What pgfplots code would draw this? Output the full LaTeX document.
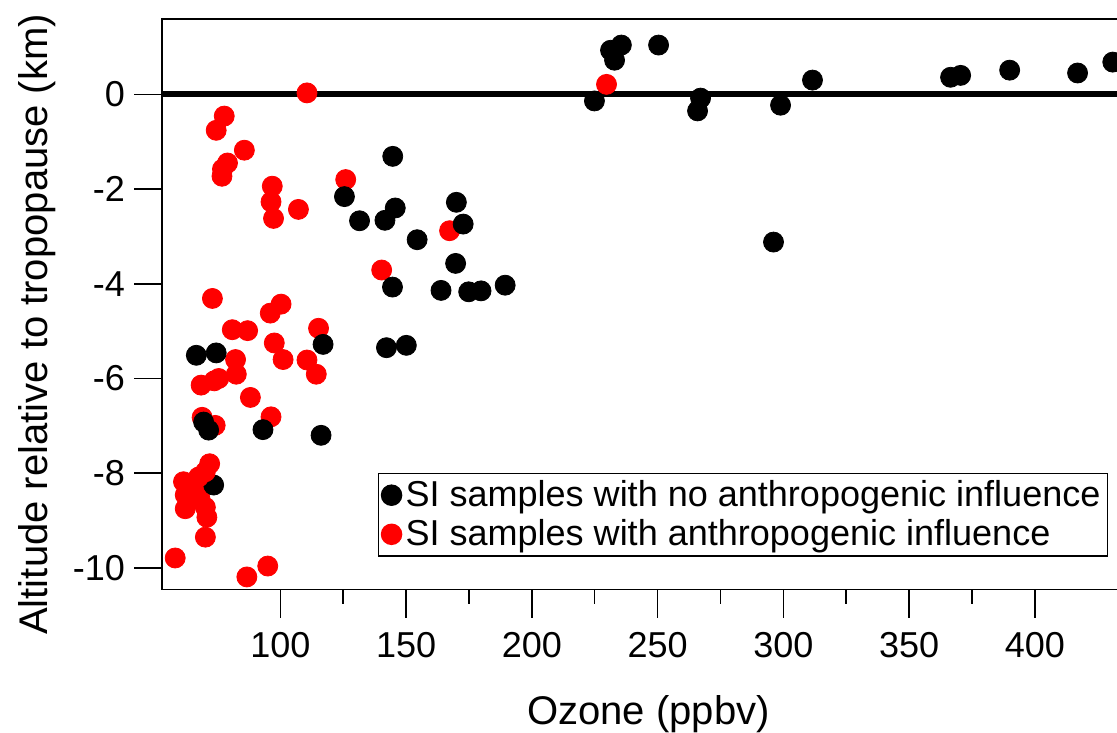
\documentclass[border=0pt]{standalone}
\usepackage{pgfplots}
\pgfplotsset{compat=1.18}
\usepackage{fontspec}
\setmainfont{Liberation Sans}
\definecolor{myred}{RGB}{255,0,0}
\begin{document}
\begin{tikzpicture}
\begin{axis}[
  at={(0,0)}, anchor=south west,
  scale only axis,
  width=477.5pt, height=285.15pt,
  xmin=53, xmax=433, ymin=-10.46, ymax=1.59,
  xtick={100,150,...,400},
  minor x tick num=1,
  ytick={-10,-8,-6,-4,-2,0},
  xtick pos=bottom, ytick pos=left,
  tick align=outside,
  major tick length=14pt, minor tick length=7pt,
  every tick/.style={black, line width=0.75pt},
  axis line style={line width=0.75pt},
  /pgf/number format/assume math mode=true,
  ticklabel style={font=\fontsize{18}{21.6}\selectfont},
  xticklabel style={anchor=north, yshift=-4pt},
  yticklabel style={anchor=east, xshift=-1pt},
  label style={font=\fontsize{20}{24}\selectfont},
  xlabel={Ozone (ppbv)},
  ylabel={Altitude relative to tropopause (km)},
  xlabel style={at={(axis description cs:0.509,-0.236)}, anchor=base},
  ylabel style={at={(axis description cs:-0.1204,0.465)}, anchor=base},
  legend style={at={(axis description cs:0.99,0.058)}, anchor=south east,
    draw=black, line width=0.75pt, font=\fontsize{18}{21.6}\selectfont,
    inner sep=1.5pt, row sep=1pt, cells={anchor=west}},
  legend cell align=left,
  clip=true,
]
\addplot[black, line width=3pt, forget plot] coordinates {(40,0) (450,0)};
% red drawn first
\addplot[only marks, mark=*, mark size=5pt, color=myred, forget plot] coordinates {
(110.6,0.03) (77.7,-0.46) (74.5,-0.76) (85.7,-1.18) (79.0,-1.45) (77.0,-1.58)
(76.8,-1.73) (96.8,-1.94) (96.3,-2.27) (97.3,-2.62) (107.2,-2.43) (126.0,-1.80)
(167.3,-2.88) (140.3,-3.71) (73.0,-4.31) (96.0,-4.62) (100.3,-4.43) (80.9,-4.97)
(87.0,-4.99) (115.2,-4.94) (97.6,-5.25) (101.1,-5.60) (110.6,-5.61) (114.3,-5.91)
(82.2,-5.60) (82.5,-5.91) (68.5,-6.14) (73.7,-6.05) (75.5,-6.00) (88.1,-6.40)
(68.9,-6.82) (96.3,-6.81) (74.1,-6.99) (62.2,-8.46) (66.9,-8.36) (68.0,-8.52)
(62.2,-8.75) (70.2,-8.72) (70.8,-8.93) (70.2,-9.35) (58.2,-9.79) (86.7,-10.19)
(95.0,-9.96)
};
\addplot[only marks, mark=*, mark size=5pt, color=black] coordinates {
(125.5,-2.16) (131.5,-2.67) (141.6,-2.66) (145.7,-2.40) (144.7,-1.31) (154.4,-3.07)
(170.0,-2.28) (172.7,-2.74) (169.7,-3.57) (144.6,-4.07) (163.9,-4.14) (174.9,-4.17)
(179.8,-4.15) (189.4,-4.03) (117.0,-5.28) (142.2,-5.35) (150.1,-5.30) (66.6,-5.51)
(74.5,-5.46) (93.1,-7.08) (69.5,-6.92) (71.5,-7.09) (116.2,-7.20) (73.5,-8.25)
(224.9,-0.14) (231.3,0.93) (232.9,0.72) (235.6,1.04) (250.4,1.04) (265.9,-0.35)
(267.1,-0.08) (298.9,-0.23) (311.6,0.30) (296.1,-3.12) (366.5,0.36) (370.5,0.40)
(390.0,0.51) (417.0,0.45) (431.0,0.68)
};
\addlegendentry{SI samples with no anthropogenic influence}
% red on top
\addplot[only marks, mark=*, mark size=5pt, color=myred] coordinates {
(229.7,0.21) (71.9,-7.80) (61.5,-8.18) (67.5,-8.08) (70.2,-7.97)
};
\addlegendentry{SI samples with anthropogenic influence}
\end{axis}
\pgfresetboundingbox
\path[use as bounding box] (-81pt,-71.35pt) rectangle (477.1pt,294.65pt);
\end{tikzpicture}
\end{document}
